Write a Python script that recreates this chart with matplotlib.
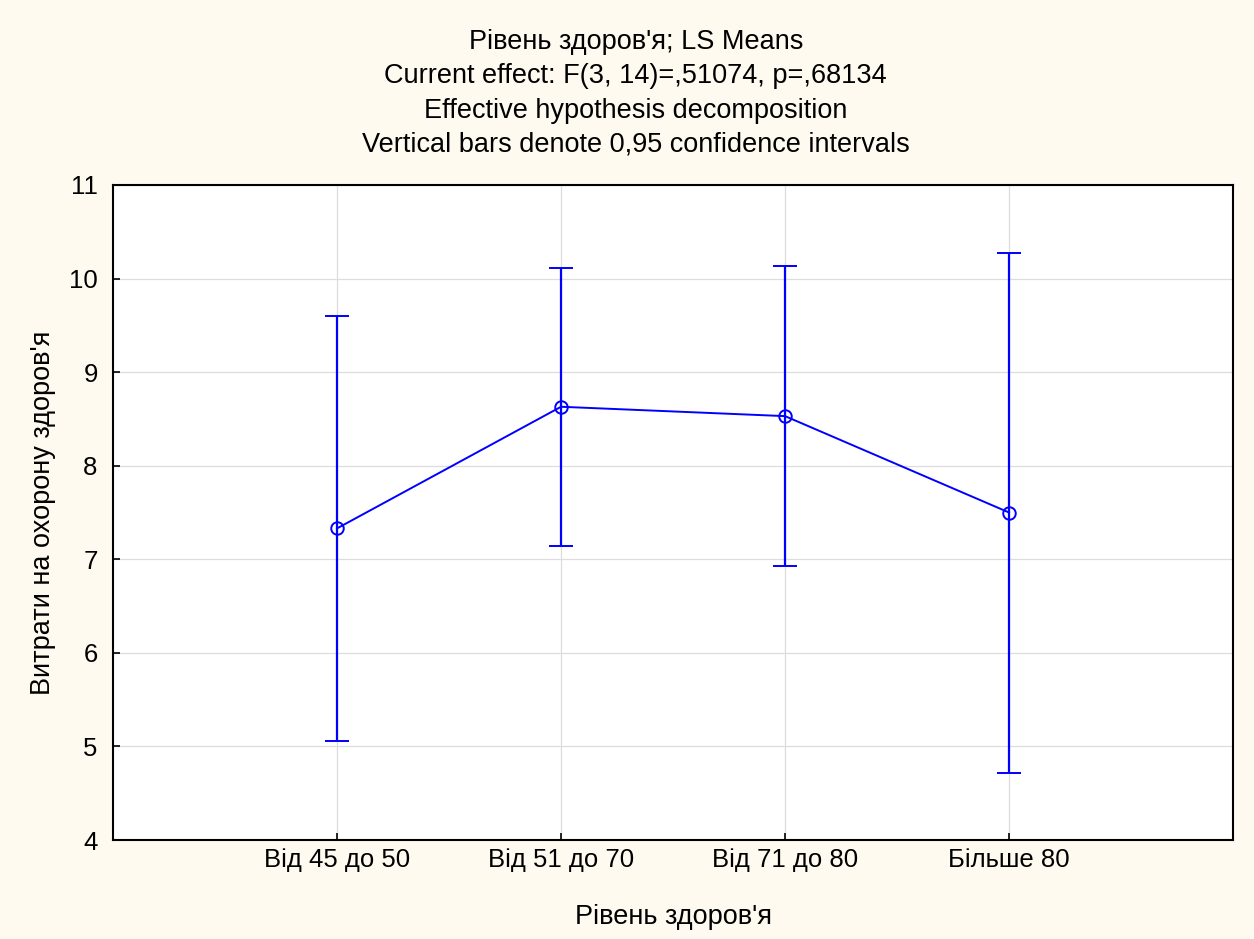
import matplotlib
matplotlib.use('Agg')
from matplotlib import pyplot as plt

# Дані з рисунка
categories = ['Від 45 до 50', 'Від 51 до 70', 'Від 71 до 80', 'Більше 80']
means = [7.33, 8.63, 8.53, 7.50]
upper = [9.60, 10.11, 10.13, 10.27]
lower = [5.06, 7.14, 6.93, 4.72]

title_lines = ["Рівень здоров'я; LS Means",
               "Current effect: F(3, 14)=,51074, p=,68134",
               "Effective hypothesis decomposition",
               "Vertical bars denote 0,95 confidence intervals"]

plt.rcParams['font.family'] = ['Liberation Sans', 'DejaVu Sans']

fig = plt.figure(figsize=(12.54, 9.39), dpi=100, facecolor='#fffaf0')
ax = fig.add_axes([0.0901, 0.1054, 0.8932, 0.6976])
ax.set_facecolor('white')

x = list(range(len(categories)))
yerr = [[m - l for m, l in zip(means, lower)], [u - m for m, u in zip(means, upper)]]
ax.errorbar(x, means, yerr=yerr, color='#0000ff', lw=1.4, elinewidth=1.6,
            capsize=8.5, capthick=1.6, marker='o', markersize=9,
            markerfacecolor='none', markeredgecolor='#0000ff', markeredgewidth=1.4,
            zorder=3)

ax.set_xlim(-1, 4)
ax.set_ylim(4, 11)
ax.set_xticks(x)
ax.set_xticklabels(categories)
ax.set_yticks(range(4, 12))
ax.grid(True, color='#dddddd', lw=0.9)
ax.set_axisbelow(True)
ax.tick_params(direction='in', length=5, width=1.2, labelsize=18.5)
ax.tick_params(axis='y', pad=11)
ax.tick_params(axis='x', pad=6)
for s in ax.spines.values():
    s.set_linewidth(1.5)

ax.set_xlabel("Рівень здоров'я", fontsize=19.5, labelpad=23)
ax.set_ylabel("Витрати на охорону здоров'я", fontsize=19.5, labelpad=9)

for i, t in enumerate(title_lines):
    fig.text(0.507, 1 - (42 + 34.3 * i) / 939, t, ha='center', va='center', fontsize=19.5)

fig.savefig('out.png', dpi=100, facecolor=fig.get_facecolor())
